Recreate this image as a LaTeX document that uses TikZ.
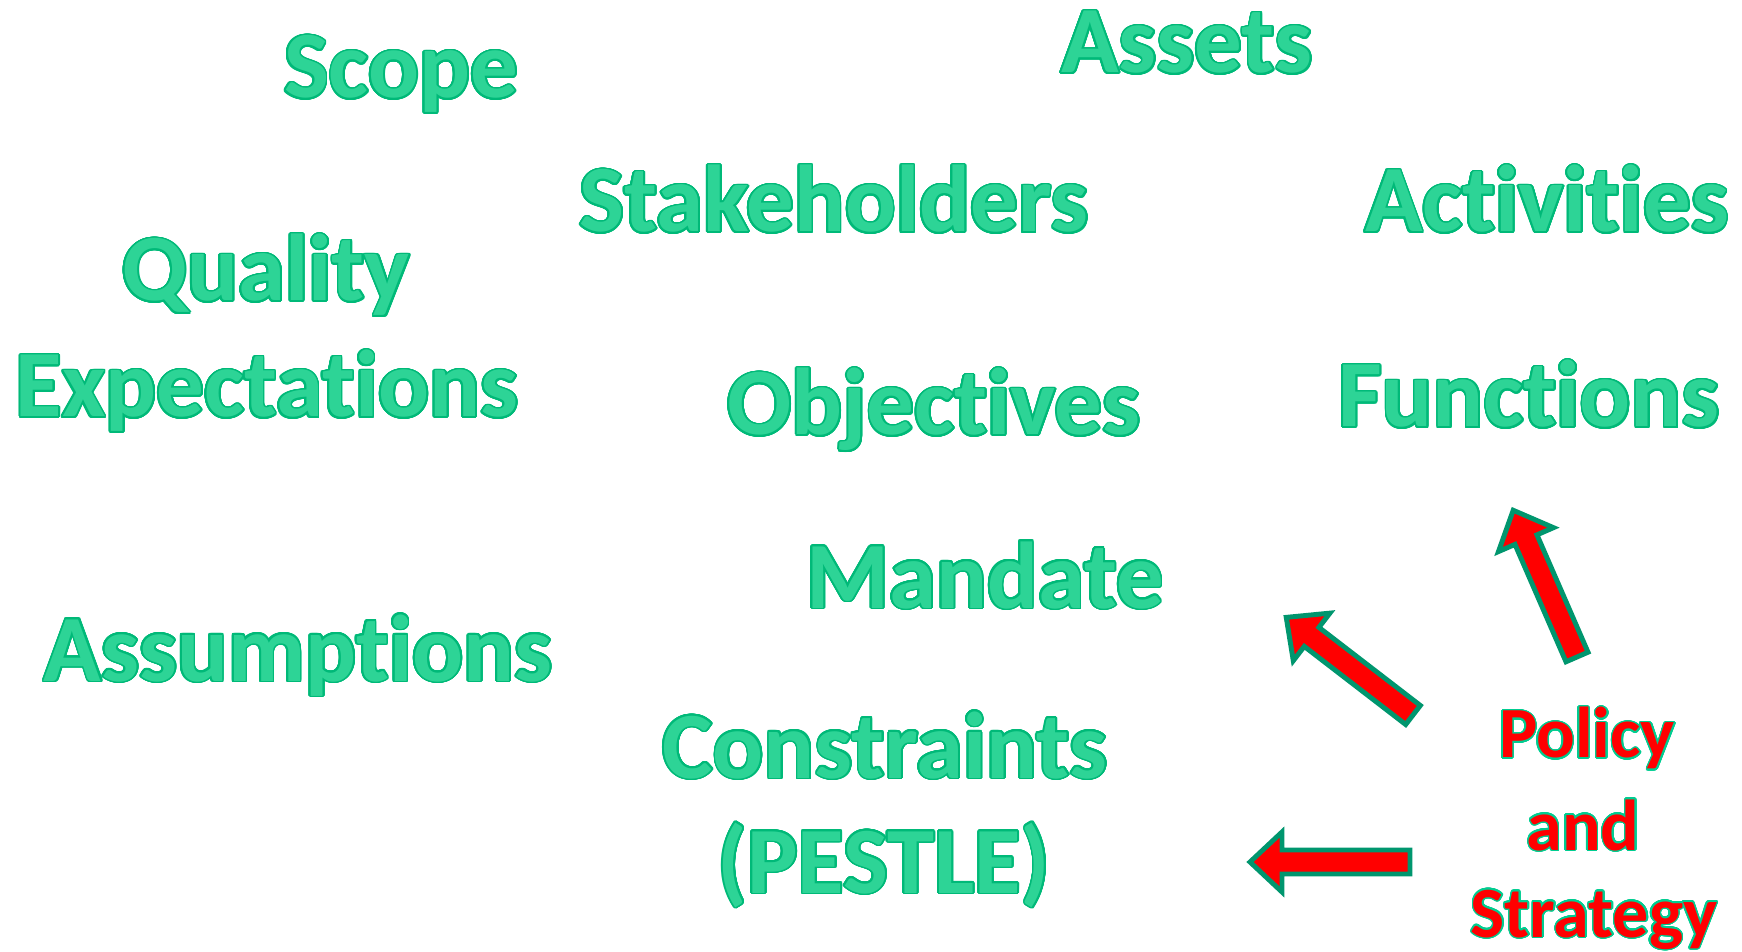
\documentclass[tikz,border=0pt]{standalone}
\usepackage{fontspec}
\setmainfont{Carlito}[Ligatures=NoCommon]
\usepackage{contour}
\contournumber{32}

\definecolor{wordgreen}{RGB}{45,212,150}
\definecolor{wordline}{RGB}{0,185,120}
\definecolor{arrowline}{RGB}{0,150,110}
\definecolor{policyline}{RGB}{0,205,145}

\newcommand{\gw}[1]{\contourlength{0.5pt}\contour{wordline}{#1}}
\newcommand{\rw}[1]{\contourlength{0.4pt}\contour{policyline}{#1}}

\tikzset{
	greenword/.style={text=wordgreen, font=\fontsize{27}{31}\selectfont\bfseries, inner sep=0pt, anchor=base},
	redword/.style={text=red, font=\fontsize{20.5}{25}\selectfont\bfseries, inner sep=0pt, anchor=base},
	fatarrow/.style={draw=arrowline, fill=red, line width=1.4pt, line join=miter}
}

\begin{document}
\begin{tikzpicture}[x=0.01cm, y=-0.01cm]
	\useasboundingbox (0,0) rectangle (1742,952);

	\node[greenword] (scope) at (401,98) {\gw{Scope}};
	\node[greenword] (assets) at (1187,73) {\gw{Assets}};
	\node[greenword] (stakeholders) at (834,232) {\gw{Stakeholders}};
	\node[greenword] (activities) at (1547,232) {\gw{Activities}};
	\node[greenword] (quality) at (266,301) {\gw{Quality}};
	\node[greenword] (expectations) at (267,417) {\gw{Expectations}};
	\node[greenword] (objectives) at (934,435) {\gw{Objectives}};
	\node[greenword] (functions) at (1529,427) {\gw{Functions}};
	\node[greenword] (mandate) at (985,608) {\gw{Mandate}};
	\node[greenword] (assumptions) at (298,681) {\gw{Assumptions}};
	\node[greenword] (constraints) at (885,778) {\gw{Constraints}};
	\node[greenword] (pestle) at (884,893) {\gw{(PESTLE)}};

	\node[redword] (policy) at (1587,758) {\rw{Policy}};
	\node[redword] (and) at (1583,850) {\rw{and}};
	\node[redword] (strategy) at (1594,937) {\rw{Strategy}};

	% block arrows: tail x/y, angle
	\foreach \tx/\ty/\ang in {1577/657/113.5, 1413/715/142.4, 1410/862/180}
		\filldraw[fatarrow, shift={(\tx,\ty)}, rotate=\ang]
		(0,-12) --
		++ (128,0) --
		++ (0,-18) --
		(160,0) --
		(128,30) --
		++ (0,-18) --
		(0,12) --
		cycle;
\end{tikzpicture}
\end{document}
